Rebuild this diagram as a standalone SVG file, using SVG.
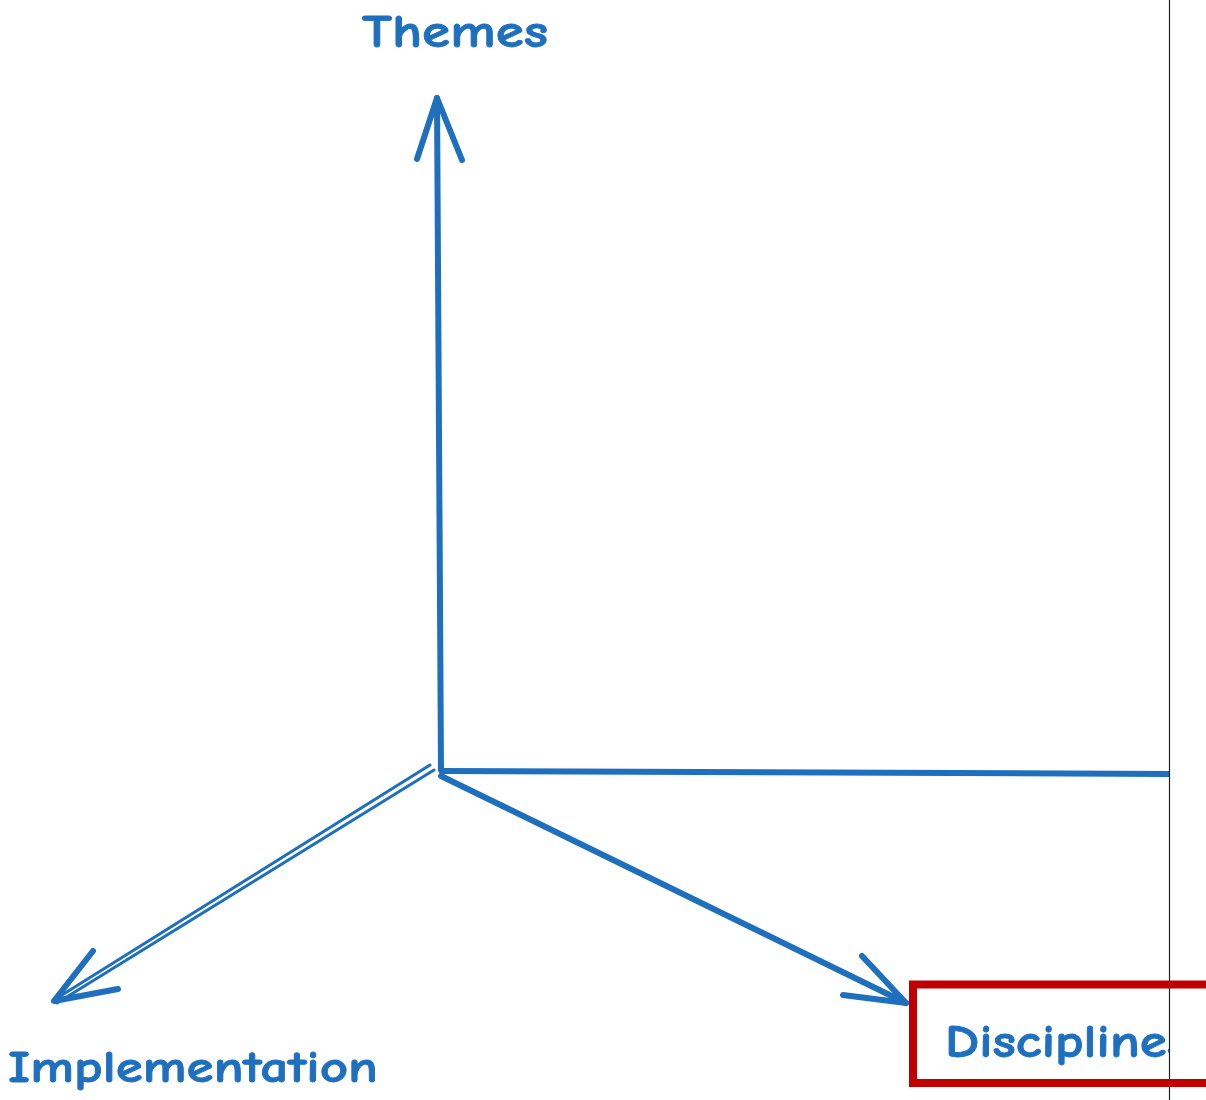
<svg xmlns="http://www.w3.org/2000/svg" width="1206" height="1100" viewBox="0 0 1206 1100">
  <style>
    .axis { fill: none; stroke: #1f6fbf; stroke-width: 6; stroke-linecap: round; stroke-linejoin: round; }
    .thin { fill: none; stroke: #1f6fbf; stroke-width: 3; stroke-linecap: round; }
    .label { fill: #1f6fbf; stroke: #1f6fbf; stroke-width: 0.8; font-weight: 700; font-family: "Comic Neue", "Liberation Sans", "DejaVu Sans", sans-serif; }
  </style>
  <defs>
    <clipPath id="canvas">
      <rect x="0" y="0" width="1169" height="1100"/>
    </clipPath>
  </defs>
  <rect width="1206" height="1100" fill="#ffffff"/>

  <g clip-path="url(#canvas)">
    <g id="connectors">
      <!-- Themes axis (up) -->
      <path class="axis" d="M441 770 L437 98"/>
      <path class="axis" d="M417 159 L437 98 L462 160"/>
      <!-- horizontal axis running off the right edge -->
      <path class="axis" d="M442 771 L1180 774"/>
      <!-- Implementation axis (down-left), sketched double stroke -->
      <path class="thin" d="M430 765 L54 1000"/>
      <path class="thin" d="M434 770 L57 1003"/>
      <path class="axis" d="M93 951 L54 1001 L118 989"/>
      <!-- Disciplines axis (down-right) -->
      <path class="axis" d="M441 776 L906 1003"/>
      <path class="axis" d="M862 956 L906 1003 L843 995"/>
    </g>

    <g id="themes">
      <text class="label" x="362" y="47" font-size="46" textLength="186" lengthAdjust="spacingAndGlyphs">Themes</text>
    </g>
    <g id="implementation">
      <text class="label" x="8" y="1082" font-size="45" textLength="370" lengthAdjust="spacingAndGlyphs">Implementation</text>
    </g>
    <g id="disciplines">
      <text class="label" x="945" y="1057" font-size="46" textLength="245" lengthAdjust="spacingAndGlyphs">Disciplines</text>
    </g>
  </g>

  <!-- page edge -->
  <line x1="1169.5" y1="0" x2="1169.5" y2="1100" stroke="#222222" stroke-width="1.2"/>

  <!-- highlight frame -->
  <g id="highlight">
    <rect x="913" y="984.5" width="300" height="98.5" fill="none" stroke="#c00000" stroke-width="8"/>
  </g>
</svg>
